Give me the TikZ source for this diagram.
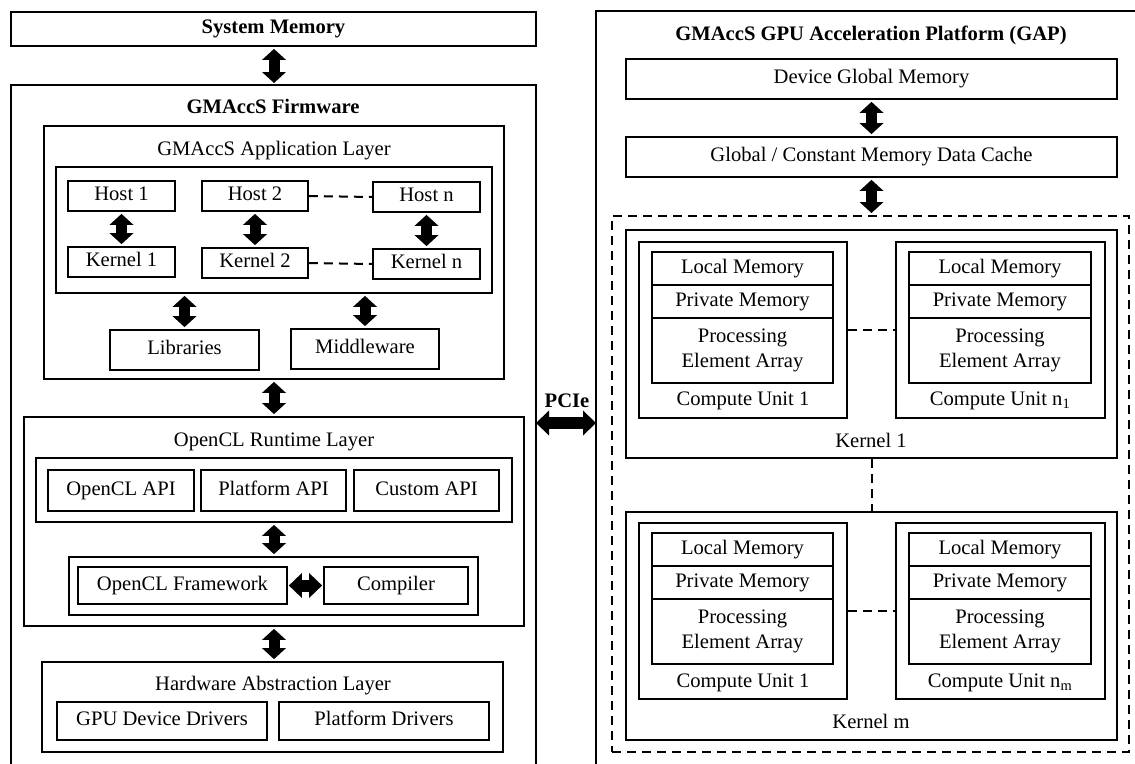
\documentclass[tikz,border=0pt]{standalone}
\usepackage{fontspec}
\setmainfont{Liberation Serif}
\usetikzlibrary{arrows.meta,fit}
\newcommand\tstrut{\rule[-5pt]{0pt}{19pt}}
\newcommand\tbox[5][lbl]{\node[box,fit={#3 #4}] (#2) {};\node[#1] (#2-t) at (#2.center) {\tstrut#5\tstrut};}
\begin{document}
\begin{tikzpicture}[x=1pt,y=-1pt,
  box/.style={draw,line width=1.8pt,inner sep=0pt},
  lbl/.style={inner sep=0pt,align=center,font=\fontsize{20.6}{25}\selectfont},
  ttl/.style={inner sep=0pt,align=center,font=\fontsize{20.6}{25}\selectfont\bfseries},
  biarrow/.style={line width=11pt,{Triangle[length=11pt,width=24pt,line width=0pt]}-{Triangle[length=11pt,width=24pt,line width=0pt]},shorten <=2pt,shorten >=2pt},
  hbiarrow/.style={line width=12pt,{Triangle[length=13pt,width=25pt,line width=0pt]}-{Triangle[length=13pt,width=25pt,line width=0pt]}},
  dsh/.style={line width=2pt,dash pattern=on 9pt off 6pt},
  dbox/.style={draw,line width=2pt,dash pattern=on 9pt off 6pt,inner sep=0pt}]
\useasboundingbox (0,0) rectangle (1135,763);
\clip (0,0) rectangle (1135,763);

% ===== Left: system memory and firmware =====
\tbox[ttl]{sysmem}{(11,12)}{(536,46)}{System Memory}
\draw[box] (11,775) |- (536,85) -- (536,775);
\coordinate (fwtop) at (274,85);
\draw[biarrow] (sysmem.south -| fwtop) -- (fwtop);
\node[ttl,anchor=base] (fwtitle) at (273,113) {GMAccS Firmware};

% application layer
\node[box,fit={(44,126) (504,379)}] (app) {};
\node[lbl,anchor=base] (apptitle) at (274,155) {GMAccS Application Layer};
\node[box,fit={(56,167) (492,293)}] (hostbox) {};
\tbox{h1}{(68,181)}{(175,211)}{Host 1}
\tbox{h2}{(202,181)}{(308,211)}{Host 2}
\tbox{hn}{(373,182)}{(480,212)}{Host n}
\tbox{k1}{(68,247)}{(175,277)}{Kernel 1}
\tbox{k2}{(202,248)}{(308,278)}{Kernel 2}
\tbox{kn}{(373,249)}{(480,279)}{Kernel n}
\draw[biarrow] (h1.south) -- (k1.north);
\draw[biarrow] (h2.south) -- (k2.north);
\draw[biarrow] (hn.south) -- (kn.north);
\draw[dsh] (h2.east) -- (hn.west);
\draw[dsh] (k2.east) -- (kn.west);
\tbox{lib}{(110,330)}{(259,370)}{Libraries}
\tbox{mid}{(291,329)}{(439,369)}{Middleware}
\draw[biarrow] (lib.north |- hostbox.south) -- (lib.north);
\draw[biarrow] (mid.north |- hostbox.south) -- (mid.north);

% runtime layer
\node[box,fit={(24,417) (524,626)}] (rt) {};
\draw[biarrow] (app.south) -- (rt.north);
\node[lbl,anchor=base] (rttitle) at (274,446) {OpenCL Runtime Layer};
\node[box,fit={(36,458) (512,522)}] (api) {};
\tbox{oapi}{(48,470)}{(194,511)}{OpenCL API}
\tbox{papi}{(201,470)}{(346,511)}{Platform API}
\tbox{capi}{(354,470)}{(499,511)}{Custom API}
\node[box,fit={(69,557) (478,615)}] (fwk) {};
\draw[biarrow] (api.south) -- (api.south |- fwk.north);
\tbox{ocf}{(78,567)}{(287,604)}{OpenCL Framework}
\tbox{comp}{(324,567)}{(468,604)}{Compiler}
\draw[hbiarrow,shorten <=1pt,shorten >=1pt] (ocf.east) -- (comp.west);

% hardware abstraction layer
\node[box,fit={(42,662) (503,752)}] (hal) {};
\draw[biarrow] (rt.south) -- (rt.south |- hal.north);
\node[lbl,anchor=base] (haltitle) at (273,690) {Hardware Abstraction Layer};
\tbox{gpud}{(57,702)}{(267,740)}{GPU Device Drivers}
\tbox{platd}{(279,702)}{(489,740)}{Platform Drivers}

% ===== PCIe =====
\coordinate (pcieL) at (536,423);
\coordinate (pcieR) at (596,423);
\draw[hbiarrow] (pcieL) -- (pcieR);
\node[ttl,anchor=base] (pcie) at (567,407) {PCIe};

% ===== Right: GAP =====
\draw[box] (596,775) |- (1145,11);
\node[ttl,anchor=base] (gaptitle) at (871,40) {GMAccS GPU Acceleration Platform (GAP)};
\tbox{dgm}{(626,59)}{(1117,99)}{Device Global Memory}
\tbox{cache}{(626,137)}{(1117,177)}{Global / Constant Memory Data Cache}
\draw[biarrow] (dgm.south) -- (cache.north);
\node[dbox,fit={(612,216) (1129,752)}] (kgroup) {};
\draw[biarrow] (cache.south) -- (cache.south |- kgroup.north);

% Kernel 1
\node[box,fit={(626,230) (1117,458)}] (kr1) {};
\node[lbl,anchor=base] (kr1t) at (871,447) {Kernel 1};
\node[box,fit={(639,242) (847,418)}] (cua) {};
\tbox{cuaL}{(652,252)}{(833,285)}{Local Memory}
\tbox{cuaP}{(652,285)}{(833,318)}{Private Memory}
\tbox{cuaE}{(652,318)}{(833,383)}{Processing\\Element Array}
\node[lbl,anchor=base] (cuat) at (743,405) {Compute Unit 1};
\node[box,fit={(896,242) (1105,418)}] (cub) {};
\tbox{cubL}{(909,252)}{(1091,285)}{Local Memory}
\tbox{cubP}{(909,285)}{(1091,318)}{Private Memory}
\tbox{cubE}{(909,318)}{(1091,383)}{Processing\\Element Array}
\node[lbl,anchor=base] (cubt) at (1000,405) {Compute Unit n\textsubscript{1}};
\draw[dsh] (cua.east) -- (cub.west);

% Kernel m
\node[box,fit={(626,512) (1117,740)}] (krm) {};
\draw[dsh] (kr1.south) -- (krm.north);
\node[lbl,anchor=base] (krmt) at (871,728) {Kernel m};
\node[box,fit={(639,523) (847,699)}] (cuc) {};
\tbox{cucL}{(652,533)}{(833,566)}{Local Memory}
\tbox{cucP}{(652,566)}{(833,599)}{Private Memory}
\tbox{cucE}{(652,599)}{(833,664)}{Processing\\Element Array}
\node[lbl,anchor=base] (cuct) at (743,687) {Compute Unit 1};
\node[box,fit={(896,523) (1105,699)}] (cud) {};
\tbox{cudL}{(909,533)}{(1091,566)}{Local Memory}
\tbox{cudP}{(909,566)}{(1091,599)}{Private Memory}
\tbox{cudE}{(909,599)}{(1091,664)}{Processing\\Element Array}
\node[lbl,anchor=base] (cudt) at (1000,687) {Compute Unit n\textsubscript{m}};
\draw[dsh] (cuc.east) -- (cud.west);
\end{tikzpicture}
\end{document}
